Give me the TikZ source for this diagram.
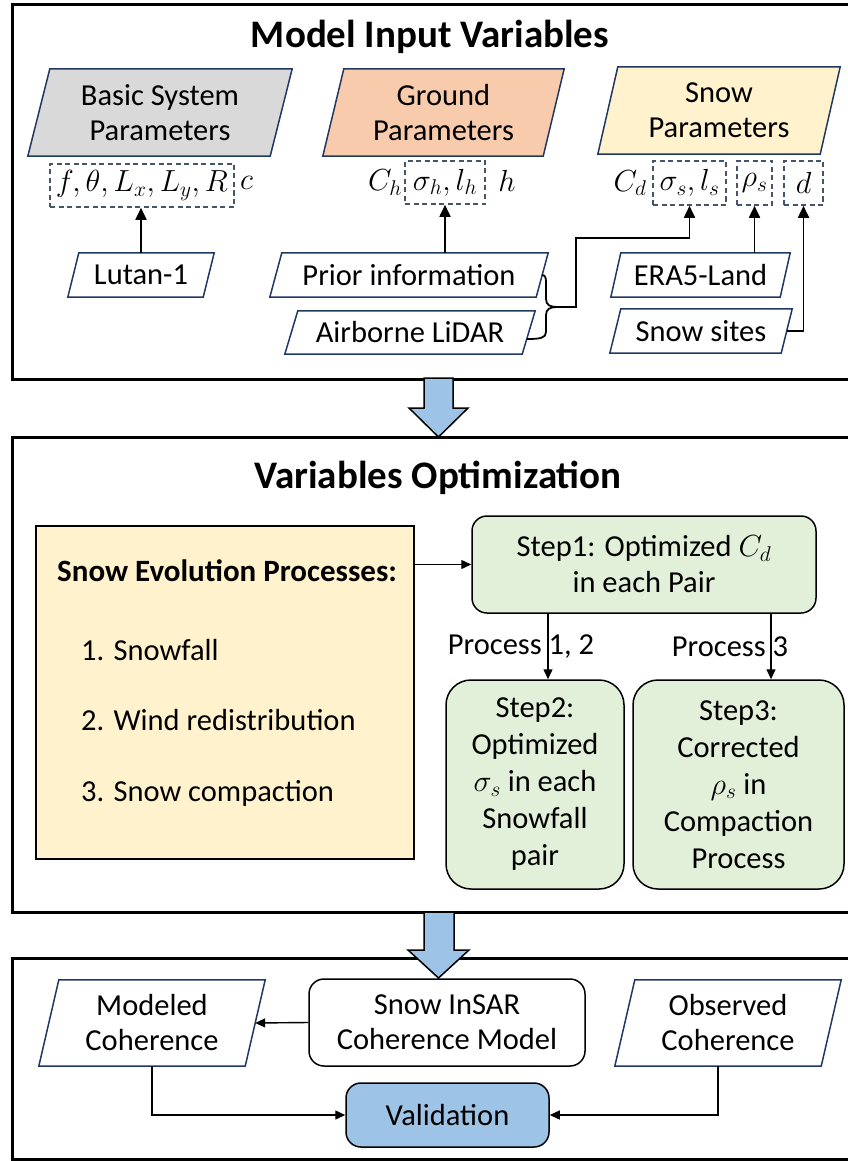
\RequirePackage{fix-cm}
\documentclass[tikz,border=0pt]{standalone}
\usepackage{fontspec}
\setmainfont{Carlito}
\usetikzlibrary{arrows.meta,backgrounds}
\definecolor{cgray}{HTML}{D9D9D9}
\definecolor{cground}{HTML}{F8CBAD}
\definecolor{csnow}{HTML}{FFF2CC}
\definecolor{cgreen}{HTML}{E2F0D9}
\definecolor{cblue}{HTML}{9DC3E6}
\definecolor{cnavy}{HTML}{203864}
\definecolor{cdash}{HTML}{44546A}
\begin{document}
\begin{tikzpicture}[x=1pt,y=-1pt,
  base/.style={font=\fontsize{30.5}{35}\selectfont, inner sep=0pt, align=center, text=black},
  title/.style={font=\fontsize{39}{44}\selectfont\bfseries, inner sep=0pt},
  pnode/.style={base},
  pshape/.style={draw=cnavy, line width=1.5pt, line join=miter},
  dbox/.style={base, draw=cdash, dashed, dash pattern=on 5pt off 3.5pt, line width=1.6pt},
  outer/.style={draw=black, line width=3pt},
  conn/.style={draw=black, line width=1.8pt},
  arr/.style={conn, -{Triangle[length=12pt,width=11pt]}},
  sarr/.style={draw=black, line width=1.4pt, -{Triangle[length=10pt,width=9pt]}},
  rbox/.style={base, draw=black, line width=1.5pt, rounded corners=15pt},
  bigarrow/.style={draw=black, fill=cblue, line width=1.5pt, line join=miter}
]
\useasboundingbox (0,0) rectangle (848,1161);
\clip (0,0) rectangle (848,1161);

% ---------------- outer panels
\draw[outer] (12,5) rectangle (870,379);
\draw[outer] (12,437.5) rectangle (870,912);
\draw[outer] (12,958) rectangle (870,1159.5);

% ---------------- big arrows
\draw[bigarrow] (424,378) -- (424,408) -- (409,408) -- (438.5,437) -- (468,408) -- (453,408) -- (453,378) -- cycle;
\draw[bigarrow] (424,912) -- (424,950) -- (408,950) -- (438.5,978) -- (469,950) -- (454,950) -- (454,912) -- cycle;

% ================= Panel 1
\node[title] (t1) at (430,37) {Model Input Variables};

\node[pnode, minimum width=264pt, minimum height=87pt] (bsp) at (160,112.5) {Basic System\\Parameters};
\node[pnode, minimum width=241pt, minimum height=87pt] (gp) at (443.5,112.5) {Ground\\Parameters};
\node[pnode, minimum width=242pt, minimum height=87pt] (sp) at (719,110.5) {Snow\\Parameters};

\node[pnode, minimum width=146pt, minimum height=44pt] (lutan) at (141,275) {Lutan-1};
\node[pnode, minimum width=278pt, minimum height=44pt] (prior) at (409,275) {Prior information};
\node[pnode, minimum width=250pt, minimum height=43pt] (lidar) at (410,332.5) {Airborne LiDAR};
\node[pnode, minimum width=179pt, minimum height=44pt] (era) at (700.5,275) {ERA5-Land};
\node[pnode, minimum width=182pt, minimum height=44pt] (sites) at (701,331) {Snow sites};

% parameter rows
\node[dbox, minimum width=184pt, minimum height=43pt] (fbox) at (142,185.5) {$f,\theta,L_x,L_y,R$};
\node[base, anchor=west] (cvar) at (240,183) {$c$};

\node[base] (ch) at (385,182.5) {$C_h$};
\node[dbox, minimum width=80pt, minimum height=43pt] (gbox) at (445,182.5) {$\sigma_h,l_h$};
\node[base] (hvar) at (507,181) {$h$};

\node[base] (cd) at (630,183) {$C_d$};
\node[dbox, minimum width=73pt, minimum height=44pt] (sbox) at (689.5,183) {$\sigma_s,l_s$};
\node[dbox, minimum width=35pt, minimum height=44pt] (rbox) at (754.5,183) {$\rho_s$};
\node[dbox, minimum width=39pt, minimum height=44pt] (dvar) at (803.5,183) {$d$};

% parallelogram outlines behind texts
\begin{pgfonlayer}{background}
\foreach \n/\s/\c in {bsp/22/cgray, gp/21/cground, sp/20/csnow, lutan/11/white, prior/12/white, lidar/13/white, era/10/white, sites/11/white}{
  \path[pshape, fill=\c] ([xshift=\s pt]\n.north west) -- (\n.north east) -- ([xshift=-\s pt]\n.south east) -- (\n.south west) -- cycle;
}
\end{pgfonlayer}

% connectors panel 1
\draw[arr] (lutan.north) -- (lutan.north |- fbox.south);
\draw[arr] (gbox.south |- prior.north) -- (gbox.south);
\draw[arr] (rbox.south |- era.north) -- (rbox.south);
\draw[arr] ([xshift=-5.5pt]sites.east) -| (dvar.south);

\coordinate (bt) at (542,275);
\coordinate (bb) at (527,339);
\coordinate (btip) at (557,307);
\coordinate (bj) at (576,238);
\draw[conn] (bt) .. controls (546,275) and (546,279) .. (546,284) -- (546,299) .. controls (546,305) and (550,307) .. (btip);
\draw[conn] (btip) .. controls (550,307) and (546,309) .. (546,315) -- (546,332) .. controls (546,338) and (540,339) .. (bb);
\draw[arr] (btip) -| (bj) -| (sbox.south);

% ================= Panel 2
\node[title] (t2) at (438,478) {Variables Optimization};

\node[base, draw=black, line width=1.6pt, fill=csnow, minimum width=378pt, minimum height=333pt] (sep) at (225,692.5) {};
\node[base, anchor=west, font=\fontsize{31}{35}\selectfont\bfseries] (sept) at (57,571) {Snow Evolution Processes:};
\node[base, anchor=west] (p1) at (81,650) {1. Snowfall};
\node[base, anchor=west] (p2) at (81,720) {2. Wind redistribution};
\node[base, anchor=west] (p3) at (81,793) {3. Snow compaction};

\node[rbox, fill=cgreen, minimum width=344pt, minimum height=97pt, font=\fontsize{30.5}{36}\selectfont] (step1) at (644,564.5) {Step1: Optimized $C_d$\\in each Pair};
\node[rbox, fill=cgreen, rounded corners=25pt, minimum width=178pt, minimum height=209pt, font=\fontsize{30.5}{37}\selectfont] (step2) at (535,784.5) {Step2:\\Optimized\\$\sigma_s$ in each\\Snowfall\\pair};
\node[rbox, fill=cgreen, rounded corners=25pt, minimum width=211pt, minimum height=209pt, font=\fontsize{30.5}{37}\selectfont] (step3) at (738.5,784.5) {Step3:\\Corrected\\$\rho_s$ in\\Compaction\\Process};

\draw[sarr] (sep.east |- step1.west) -- (step1.west);
\coordinate (s2in) at ([xshift=13pt]step2.north);
\coordinate (s3in) at ([xshift=32.5pt]step3.north);
\draw[sarr] (step1.south -| s2in) -- (s2in);
\draw[sarr] (step1.south -| s3in) -- (s3in);
\node[base] (l12) at (521,647) {Process 1, 2};
\node[base] (l3) at (730,647) {Process 3};

% ================= Panel 3
\node[pnode, minimum width=226pt, minimum height=86pt] (modeled) at (152,1023) {Modeled\\Coherence};
\node[pnode, minimum width=226pt, minimum height=86pt] (observed) at (728,1023) {Observed\\Coherence};
\begin{pgfonlayer}{background}
\foreach \n/\s in {modeled/20, observed/20}{
  \path[pshape, fill=white] ([xshift=\s pt]\n.north west) -- (\n.north east) -- ([xshift=-\s pt]\n.south east) -- (\n.south west) -- cycle;
}
\end{pgfonlayer}
\node[rbox, fill=white, minimum width=276pt, minimum height=87pt] (insar) at (447,1022.5) {Snow InSAR\\Coherence Model};
\node[rbox, fill=cblue, minimum width=203pt, minimum height=64pt] (valid) at (447.5,1115) {Validation};

\draw[sarr] (insar.west) -- ([xshift=-10pt]modeled.east);
\draw[sarr] (modeled.south) |- (valid.west);
\draw[sarr] ([xshift=-10pt]observed.south) |- (valid.east);
\end{tikzpicture}
\end{document}
